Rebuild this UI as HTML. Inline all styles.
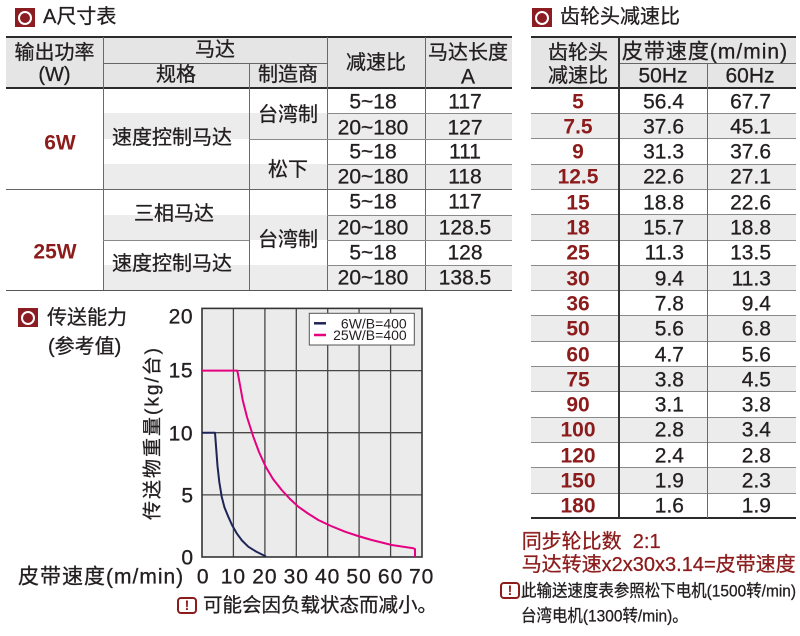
<!DOCTYPE html>
<html><head><meta charset="utf-8">
<style>
*{margin:0;padding:0;box-sizing:border-box}
body{width:800px;height:636px;overflow:hidden;background:#fff;position:relative;font-family:"Liberation Sans","Noto Sans CJK SC",sans-serif;color:#231f20}
.a{position:absolute}
.c,.l,.r{-webkit-text-stroke:0.3px currentColor}
.c{position:absolute;transform:translate(-50%,-50%);white-space:nowrap;line-height:1;font-size:20px}
.l{position:absolute;transform:translateY(-50%);white-space:nowrap;line-height:1;font-size:20px}
.r{position:absolute;transform:translate(-100%,-50%);white-space:nowrap;line-height:1;font-size:21px}
.n{font-size:21px}
.red{color:#8c1c1c;font-weight:bold;-webkit-text-stroke:0}
.ic{position:absolute;width:20px;height:19px;background:#8b1c22}
.ic::after{content:"";position:absolute;left:3px;top:2.5px;width:14px;height:14px;border:2px solid #fff;border-radius:50%;box-sizing:border-box}
.g{position:absolute;background:#ececec}
.hl{position:absolute;height:1px;background:#8a8a8a}
.tk{position:absolute;height:2px;background:#2b2b2b}
.vl{position:absolute;width:1.3px;background:#6a6a6a}
.ex{position:absolute;width:20px;height:17px;border:2px solid #8c1c1c;border-radius:4px;color:#8c1c1c;font-weight:bold;font-size:14px;line-height:13px;text-align:center}
</style></head><body>

<!-- ===== Left table: A尺寸表 ===== -->
<div class="ic" style="left:15px;top:8px"></div>
<div class="l" style="left:43px;top:17px">A尺寸表</div>

<div class="g" style="left:6px;top:37px;width:506px;height:50px;background:#e5e5e5"></div>
<div class="g" style="left:103px;top:113px;width:409px;height:25.5px"></div>
<div class="g" style="left:103px;top:163.5px;width:409px;height:25.5px"></div>
<div class="g" style="left:103px;top:214.5px;width:409px;height:25px"></div>
<div class="g" style="left:103px;top:265px;width:409px;height:25px"></div>

<div class="tk" style="left:6px;top:35.5px;width:506px"></div>
<div class="tk" style="left:6px;top:86.5px;width:506px"></div>
<div class="hl" style="left:103px;top:63px;width:224px;background:#666"></div>
<div class="vl" style="left:102.5px;top:37px;height:253px"></div>
<div class="vl" style="left:249px;top:63px;height:227px"></div>
<div class="vl" style="left:327px;top:37px;height:253px"></div>
<div class="vl" style="left:424.5px;top:37px;height:253px"></div>

<div class="hl" style="left:327px;top:113px;width:185px"></div>
<div class="hl" style="left:249px;top:138.5px;width:263px"></div>
<div class="hl" style="left:327px;top:163.5px;width:185px"></div>
<div class="hl" style="left:6px;top:189px;width:506px;background:#666"></div>
<div class="hl" style="left:327px;top:214.5px;width:185px"></div>
<div class="hl" style="left:103px;top:239.5px;width:146px"></div>
<div class="hl" style="left:327px;top:239.5px;width:185px"></div>
<div class="hl" style="left:327px;top:265px;width:185px"></div>
<div class="hl" style="left:6px;top:289.5px;width:506px;height:1.5px;background:#555"></div>

<div class="c" style="left:54.5px;top:53px">输出功率</div>
<div class="c" style="left:54.5px;top:75px">(W)</div>
<div class="c" style="left:215px;top:50px">马达</div>
<div class="c" style="left:176px;top:75px">规格</div>
<div class="c" style="left:288px;top:75px">制造商</div>
<div class="c" style="left:376px;top:63px">减速比</div>
<div class="c" style="left:468px;top:53px">马达长度</div>
<div class="c n" style="left:468px;top:77px">A</div>

<div class="c n red" style="left:60px;top:143px">6W</div>
<div class="c n red" style="left:55px;top:252px">25W</div>
<div class="c" style="left:172px;top:138px">速度控制马达</div>
<div class="c" style="left:288px;top:115px">台湾制</div>
<div class="c" style="left:288px;top:170px">松下</div>
<div class="c" style="left:174px;top:214px">三相马达</div>
<div class="c" style="left:288px;top:240px">台湾制</div>
<div class="c" style="left:172px;top:264px">速度控制马达</div>

<div class="c n" style="left:373px;top:101.7px">5~18</div><div class="c n" style="left:465px;top:101.7px">117</div>
<div class="c n" style="left:373px;top:128px">20~180</div><div class="c n" style="left:465px;top:128px">127</div>
<div class="c n" style="left:373px;top:151.7px">5~18</div><div class="c n" style="left:465px;top:151.7px">111</div>
<div class="c n" style="left:373px;top:176.7px">20~180</div><div class="c n" style="left:465px;top:176.7px">118</div>
<div class="c n" style="left:373px;top:202.3px">5~18</div><div class="c n" style="left:465px;top:202.3px">117</div>
<div class="c n" style="left:373px;top:227.7px">20~180</div><div class="c n" style="left:465px;top:227.7px">128.5</div>
<div class="c n" style="left:373px;top:253.3px">5~18</div><div class="c n" style="left:465px;top:253.3px">128</div>
<div class="c n" style="left:373px;top:278.3px">20~180</div><div class="c n" style="left:465px;top:278.3px">138.5</div>

<!-- ===== Right table ===== -->
<div class="ic" style="left:531.7px;top:8px"></div>
<div class="l" style="left:560px;top:17px">齿轮头减速比</div>

<div class="g" style="left:531px;top:37px;width:265px;height:50px;background:#e5e5e5"></div>
<div class="g" style="left:531px;top:113.3px;width:265px;height:25.3px"></div>
<div class="g" style="left:531px;top:163.9px;width:265px;height:25.3px"></div>
<div class="g" style="left:531px;top:214.5px;width:265px;height:25.3px"></div>
<div class="g" style="left:531px;top:265.1px;width:265px;height:25.3px"></div>
<div class="g" style="left:531px;top:315.7px;width:265px;height:25.3px"></div>
<div class="g" style="left:531px;top:366.3px;width:265px;height:25.3px"></div>
<div class="g" style="left:531px;top:416.9px;width:265px;height:25.3px"></div>
<div class="g" style="left:531px;top:467.5px;width:265px;height:25.3px"></div>

<div class="tk" style="left:531px;top:36px;width:265px"></div>
<div class="tk" style="left:531px;top:86.5px;width:265px"></div>
<div class="hl" style="left:619px;top:63px;width:177px;background:#666"></div>

<div class="hl" style="left:531px;top:113px;width:265px"></div>
<div class="hl" style="left:531px;top:138.3px;width:265px"></div>
<div class="hl" style="left:531px;top:163.6px;width:265px"></div>
<div class="hl" style="left:531px;top:188.9px;width:265px"></div>
<div class="hl" style="left:531px;top:214.2px;width:265px"></div>
<div class="hl" style="left:531px;top:239.5px;width:265px"></div>
<div class="hl" style="left:531px;top:264.8px;width:265px"></div>
<div class="hl" style="left:531px;top:290.1px;width:265px"></div>
<div class="hl" style="left:531px;top:315.4px;width:265px"></div>
<div class="hl" style="left:531px;top:340.7px;width:265px"></div>
<div class="hl" style="left:531px;top:366px;width:265px"></div>
<div class="hl" style="left:531px;top:391.3px;width:265px"></div>
<div class="hl" style="left:531px;top:416.6px;width:265px"></div>
<div class="hl" style="left:531px;top:441.9px;width:265px"></div>
<div class="hl" style="left:531px;top:467.2px;width:265px"></div>
<div class="hl" style="left:531px;top:492.5px;width:265px"></div>
<div class="tk" style="left:531px;top:517.3px;width:265px"></div>

<div class="vl" style="left:618.3px;top:37px;height:481px;width:2px;background:#333"></div>
<div class="vl" style="left:707px;top:63px;height:455px;width:1.2px"></div>

<div class="c" style="left:578px;top:52.7px">齿轮头</div>
<div class="c" style="left:578px;top:76px">减速比</div>
<div class="c" style="left:705px;top:51.7px;font-size:21px;letter-spacing:1px">皮带速度(m/min)</div>
<div class="c n" style="left:663px;top:76px">50Hz</div>
<div class="c n" style="left:750px;top:76px">60Hz</div>

<div class="c n red" style="left:578px;top:101.5px">5</div><div class="r" style="left:684px;top:101.5px">56.4</div><div class="r" style="left:771px;top:101.5px">67.7</div>
<div class="c n red" style="left:578px;top:126.8px">7.5</div><div class="r" style="left:684px;top:126.8px">37.6</div><div class="r" style="left:771px;top:126.8px">45.1</div>
<div class="c n red" style="left:578px;top:152.1px">9</div><div class="r" style="left:684px;top:152.1px">31.3</div><div class="r" style="left:771px;top:152.1px">37.6</div>
<div class="c n red" style="left:578px;top:177.4px">12.5</div><div class="r" style="left:684px;top:177.4px">22.6</div><div class="r" style="left:771px;top:177.4px">27.1</div>
<div class="c n red" style="left:578px;top:202.7px">15</div><div class="r" style="left:684px;top:202.7px">18.8</div><div class="r" style="left:771px;top:202.7px">22.6</div>
<div class="c n red" style="left:578px;top:228px">18</div><div class="r" style="left:684px;top:228px">15.7</div><div class="r" style="left:771px;top:228px">18.8</div>
<div class="c n red" style="left:578px;top:253.3px">25</div><div class="r" style="left:684px;top:253.3px">11.3</div><div class="r" style="left:771px;top:253.3px">13.5</div>
<div class="c n red" style="left:578px;top:278.6px">30</div><div class="r" style="left:684px;top:278.6px">9.4</div><div class="r" style="left:771px;top:278.6px">11.3</div>
<div class="c n red" style="left:578px;top:303.9px">36</div><div class="r" style="left:684px;top:303.9px">7.8</div><div class="r" style="left:771px;top:303.9px">9.4</div>
<div class="c n red" style="left:578px;top:329.2px">50</div><div class="r" style="left:684px;top:329.2px">5.6</div><div class="r" style="left:771px;top:329.2px">6.8</div>
<div class="c n red" style="left:578px;top:354.5px">60</div><div class="r" style="left:684px;top:354.5px">4.7</div><div class="r" style="left:771px;top:354.5px">5.6</div>
<div class="c n red" style="left:578px;top:379.8px">75</div><div class="r" style="left:684px;top:379.8px">3.8</div><div class="r" style="left:771px;top:379.8px">4.5</div>
<div class="c n red" style="left:578px;top:405.1px">90</div><div class="r" style="left:684px;top:405.1px">3.1</div><div class="r" style="left:771px;top:405.1px">3.8</div>
<div class="c n red" style="left:578px;top:430.4px">100</div><div class="r" style="left:684px;top:430.4px">2.8</div><div class="r" style="left:771px;top:430.4px">3.4</div>
<div class="c n red" style="left:578px;top:455.7px">120</div><div class="r" style="left:684px;top:455.7px">2.4</div><div class="r" style="left:771px;top:455.7px">2.8</div>
<div class="c n red" style="left:578px;top:481px">150</div><div class="r" style="left:684px;top:481px">1.9</div><div class="r" style="left:771px;top:481px">2.3</div>
<div class="c n red" style="left:578px;top:506.3px">180</div><div class="r" style="left:684px;top:506.3px">1.6</div><div class="r" style="left:771px;top:506.3px">1.9</div>

<!-- bottom right notes -->
<div class="l" style="left:521.7px;top:541.7px;color:#8c1c1c">同步轮比数&nbsp;&nbsp;2:1</div>
<div class="l" style="left:521.7px;top:565px;color:#8c1c1c">马达转速x2x30x3.14=皮带速度</div>
<div class="ex" style="left:500px;top:582px">!</div>
<div class="l" style="left:521px;top:591px;font-size:17px;transform:translateY(-50%) scaleX(0.91);transform-origin:left center">此输送速度表参照松下电机(1500转/min)</div>
<div class="l" style="left:521px;top:616px;font-size:17px;transform:translateY(-50%) scaleX(0.91);transform-origin:left center">台湾电机(1300转/min)。</div>

<!-- ===== Chart ===== -->
<div class="ic" style="left:18px;top:308px"></div>
<div class="l" style="left:47px;top:317.5px">传送能力</div>
<div class="l" style="left:48px;top:347px">(参考值)</div>

<svg class="a" style="left:0;top:0" width="800" height="636" viewBox="0 0 800 636">
  <rect x="202" y="308.4" width="220" height="248.6" fill="#ebebeb"/>
  <g stroke="#474747" stroke-width="1.3">
    <line x1="233.4" y1="308.4" x2="233.4" y2="557"/>
    <line x1="264.9" y1="308.4" x2="264.9" y2="557"/>
    <line x1="296.3" y1="308.4" x2="296.3" y2="557"/>
    <line x1="327.7" y1="308.4" x2="327.7" y2="557"/>
    <line x1="359.1" y1="308.4" x2="359.1" y2="557"/>
    <line x1="390.6" y1="308.4" x2="390.6" y2="557"/>
    <line x1="202" y1="370.6" x2="422" y2="370.6"/>
    <line x1="202" y1="432.7" x2="422" y2="432.7"/>
    <line x1="202" y1="494.9" x2="422" y2="494.9"/>
  </g>
  <rect x="202" y="308.4" width="220" height="248.6" fill="none" stroke="#333" stroke-width="1.6"/>
  <polyline fill="none" stroke="#1d2557" stroke-width="2" stroke-linejoin="round"
    points="202,432.7 215,432.7 216.3,450 217.5,466 219.3,482 221.7,496.7 224.5,507.5 228.3,516.7 232,525 236.7,533.3 242,540.5 248.3,546.7 256,551.5 266,556.5"/>
  <polyline fill="none" stroke="#e4007f" stroke-width="2" stroke-linejoin="round"
    points="202,370.6 237.3,370.6 240,385 242.7,400 247,417 253.3,436.7 259,452 265.7,466.7 273,479 281.7,490 290,499 298.3,506.7 308,513.5 318.3,520 331,526 345,531.7 358,536 371.7,540 391.7,545 413.3,548.3 415,549 415,557"/>
  <rect x="309.3" y="313.3" width="105" height="31.7" fill="#fff" stroke="#555" stroke-width="1"/>
  <line x1="314" y1="323.3" x2="326" y2="323.3" stroke="#1d2557" stroke-width="2.5"/>
  <line x1="314" y1="335" x2="326" y2="335" stroke="#e4007f" stroke-width="2.5"/>
  <text x="406.7" y="328.3" text-anchor="end" font-family="Liberation Sans, sans-serif" font-size="14" fill="#231f20">6W/B=400</text>
  <text x="406.7" y="340" text-anchor="end" font-family="Liberation Sans, sans-serif" font-size="14" fill="#231f20">25W/B=400</text>
</svg>

<div class="r" style="left:193px;top:317px;letter-spacing:0.5px">20</div>
<div class="r" style="left:193px;top:370.5px;letter-spacing:0.5px">15</div>
<div class="r" style="left:193px;top:434px;letter-spacing:0.5px">10</div>
<div class="r" style="left:193px;top:495.7px">5</div>
<div class="r" style="left:193px;top:557.5px">0</div>

<div class="c n" style="left:202.7px;top:576.7px">0</div>
<div class="c n" style="left:233.4px;top:576.7px;letter-spacing:1px">10</div>
<div class="c n" style="left:264.9px;top:576.7px;letter-spacing:1px">20</div>
<div class="c n" style="left:296.3px;top:576.7px;letter-spacing:1px">30</div>
<div class="c n" style="left:327.7px;top:576.7px;letter-spacing:1px">40</div>
<div class="c n" style="left:359.1px;top:576.7px;letter-spacing:1px">50</div>
<div class="c n" style="left:390.6px;top:576.7px;letter-spacing:1px">60</div>
<div class="c n" style="left:421.7px;top:576.7px;letter-spacing:1px">70</div>

<div class="l" style="left:18px;top:576.7px;font-size:21px;letter-spacing:1px">皮带速度(m/min)</div>

<div class="c" style="left:153px;top:433px;transform:translate(-50%,-50%) rotate(-90deg);letter-spacing:2px;font-size:19px">传送物重量(kg/台)</div>

<div class="ex" style="left:177px;top:597px">!</div>
<div class="l" style="left:203px;top:605.7px;font-size:19.5px">可能会因负载状态而减小。</div>

</body></html>
